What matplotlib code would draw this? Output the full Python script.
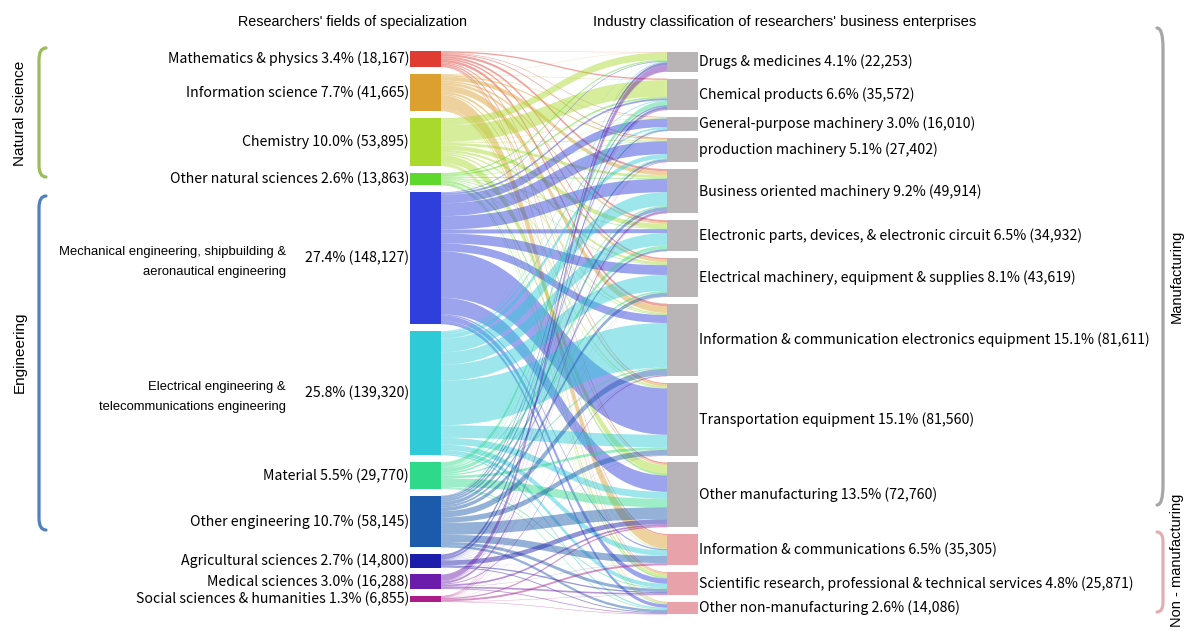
import numpy as np
import matplotlib.pyplot as plt
from matplotlib.path import Path
from matplotlib.patches import PathPatch, Rectangle

# researchers' fields of specialization (left column)
fields = ['Mathematics & physics', 'Information science', 'Chemistry',
          'Other natural sciences',
          'Mechanical engineering, shipbuilding &\naeronautical engineering',
          'Electrical engineering &\ntelecommunications engineering',
          'Material', 'Other engineering', 'Agricultural sciences',
          'Medical sciences', 'Social sciences & humanities']
field_pct = ['3.4%', '7.7%', '10.0%', '2.6%', '27.4%', '25.8%', '5.5%',
             '10.7%', '2.7%', '3.0%', '1.3%']
field_values = [18167, 41665, 53895, 13863, 148127, 139320, 29770, 58145,
                14800, 16288, 6855]
field_colors = ['#e03c31', '#dba030', '#a9d92d', '#5fd82d', '#2e3fdb',
                '#2ecad8', '#2fd98a', '#1c5aab', '#1c1eab', '#6c1cab',
                '#ab1c8a']

# industry classification of business enterprises (right column)
industries = ['Drugs & medicines', 'Chemical products',
              'General-purpose machinery', 'production machinery',
              'Business oriented machinery',
              'Electronic parts, devices, & electronic circuit',
              'Electrical machinery, equipment & supplies',
              'Information & communication electronics equipment',
              'Transportation equipment', 'Other manufacturing',
              'Information & communications',
              'Scientific research, professional & technical services',
              'Other non-manufacturing']
industry_pct = ['4.1%', '6.6%', '3.0%', '5.1%', '9.2%', '6.5%', '8.1%',
                '15.1%', '15.1%', '13.5%', '6.5%', '4.8%', '2.6%']
industry_values = [22253, 35572, 16010, 27402, 49914, 34932, 43619, 81611,
                   81560, 72760, 35305, 25871, 14086]
manufacturing = [True] * 10 + [False] * 3

# estimated flows: rows = fields, columns = industries
flows = [
    [300, 1500, 600, 1000, 2500, 2200, 1800, 3000, 1200, 1600, 1400, 800, 267],
    [300, 400, 500, 1500, 4500, 2000, 3000, 7500, 2500, 1500, 15000, 2000, 965],
    [8000, 18472, 500, 700, 3000, 5000, 2500, 1500, 1800, 9028, 200, 2500, 695],
    [1500, 2000, 300, 500, 1000, 800, 700, 800, 600, 2500, 500, 1800, 863],
    [800, 2000, 9500, 14502, 15000, 4500, 11000, 9000, 52000, 18498, 1500, 6000, 3827],
    [300, 1000, 2000, 5000, 15314, 14000, 18000, 50000, 14000, 7686, 6000, 4500, 1520],
    [200, 4500, 600, 800, 1500, 4000, 2000, 1500, 3000, 9500, 100, 1200, 870],
    [600, 2000, 1800, 2500, 4000, 2300, 4200, 7000, 6000, 13500, 8000, 3500, 2745],
    [3000, 2500, 100, 200, 300, 100, 200, 200, 200, 5500, 100, 1400, 1000],
    [7000, 700, 50, 200, 2300, 20, 20, 1000, 50, 2000, 300, 1800, 848],
    [253, 500, 60, 500, 500, 12, 199, 111, 210, 1448, 2205, 371, 486],
]
flows = np.array(flows, dtype=float)

W, H = 1186, 633
fig = plt.figure(figsize=(W / 100, H / 100), dpi=100)
ax = fig.add_axes([0, 0, 1, 1])
ax.set_xlim(0, W)
ax.set_ylim(H, 0)
ax.axis('off')

label_font = ['Noto Sans CJK JP', 'DejaVu Sans']
narrow_font = ['Liberation Sans', 'DejaVu Sans']
lab_size = 10.2

total = sum(field_values)
ky = 482 / total
lx0, lx1 = 410, 441
rx0, rx1 = 667, 698


def stack(values, top, gap):
    h = np.array(values) * ky
    y = top + np.concatenate([[0], np.cumsum(h[:-1] + gap)])
    return y, h


ly, lh = stack(field_values, 51, 6.9)
ry, rh = stack(industry_values, 52, 6.7)

# links
src_off = ly.copy()
tgt_off = ry.copy()
link_geo = {}
for i in range(len(fields)):
    for j in range(len(industries)):
        link_geo[(i, j)] = [src_off[i], 0]
        src_off[i] += flows[i, j] * ky
for j in range(len(industries)):
    for i in range(len(fields)):
        link_geo[(i, j)][1] = tgt_off[j]
        tgt_off[j] += flows[i, j] * ky

xm = (lx1 + rx0) / 2
for i in range(len(fields)):
    for j in range(len(industries)):
        w = flows[i, j] * ky
        ys, yt = link_geo[(i, j)]
        verts = [(lx1, ys), (xm, ys), (xm, yt), (rx0, yt),
                 (rx0, yt + w), (xm, yt + w), (xm, ys + w), (lx1, ys + w),
                 (lx1, ys)]
        codes = [Path.MOVETO, Path.CURVE4, Path.CURVE4, Path.CURVE4,
                 Path.LINETO, Path.CURVE4, Path.CURVE4, Path.CURVE4,
                 Path.CLOSEPOLY]
        ax.add_patch(PathPatch(Path(verts, codes), facecolor=field_colors[i],
                               edgecolor='none', alpha=0.47))

# nodes and labels
for i, name in enumerate(fields):
    ax.add_patch(Rectangle((lx0, ly[i]), lx1 - lx0, lh[i],
                           facecolor=field_colors[i], edgecolor='none'))
    cy = ly[i] + lh[i] / 2
    val = f'{field_pct[i]} ({field_values[i]:,})'
    if '\n' in name:
        ax.text(lx0 - 1, cy, val, ha='right', va='center', fontsize=lab_size,
                family=label_font)
        ax.text(286, cy + 4, name, ha='right', va='center', fontsize=9.4,
                family=narrow_font, linespacing=1.85)
    else:
        ax.text(lx0 - 1, cy, f'{name} {val}', ha='right', va='center',
                fontsize=lab_size, family=label_font)

for j, name in enumerate(industries):
    col = '#b9b5b6' if manufacturing[j] else '#e8a2aa'
    ax.add_patch(Rectangle((rx0, ry[j]), rx1 - rx0, rh[j],
                           facecolor=col, edgecolor='none'))
    cy = ry[j] + rh[j] / 2
    ax.text(rx1 + 1, cy, f'{name} {industry_pct[j]} ({industry_values[j]:,})',
            ha='left', va='center', fontsize=lab_size, family=label_font)

# column headers
ax.text(352, 22, "Researchers' fields of specialization", ha='center',
        va='center', fontsize=10.4, family=narrow_font)
ax.text(785, 22, "Industry classification of researchers' business enterprises",
        ha='center', va='center', fontsize=10.6, family=narrow_font)


# group brackets
def bracket(x_line, x_end, top, bottom, color, r=12):
    verts = [(x_end, top), (x_line, top), (x_line, top + r),
             (x_line, bottom - r), (x_line, bottom), (x_end, bottom)]
    codes = [Path.MOVETO, Path.CURVE3, Path.CURVE3, Path.LINETO,
             Path.CURVE3, Path.CURVE3]
    ax.add_patch(PathPatch(Path(verts, codes), facecolor='none',
                           edgecolor=color, lw=2.3, capstyle='round'))


bracket(39, 46, 48, 177, '#9cbb59')
bracket(39, 46, 196, 530, '#4f81bd')
bracket(1163, 1157, 28, 505, '#a6a6a6', r=20)
bracket(1163, 1157, 532, 612, '#e3aeb3', r=10)

ax.text(20, 113, 'Natural science', rotation=90, ha='center', va='center',
        fontsize=11, family=narrow_font)
ax.text(20, 352, 'Engineering', rotation=90, ha='center', va='center',
        fontsize=11, family=narrow_font)
ax.text(1177, 276, 'Manufacturing', rotation=90, ha='center', va='center',
        fontsize=10.5, family=narrow_font)
ax.text(1177, 560, 'Non - manufacturing', rotation=90, ha='center',
        va='center', fontsize=10.5, family=narrow_font)

fig.savefig('out.png', dpi=100)
